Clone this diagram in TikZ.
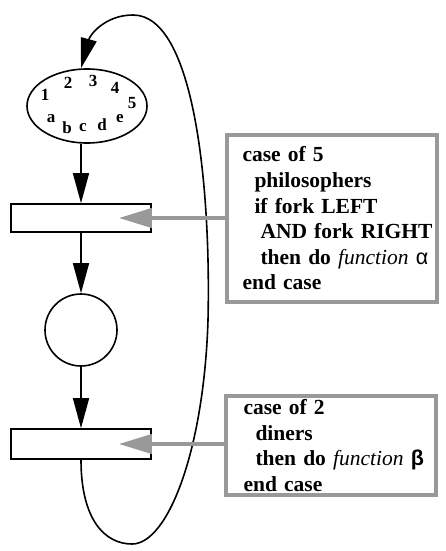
\documentclass[tikz,border=0pt]{standalone}
\usepackage{fontspec}
\setmainfont{Liberation Serif}
\newfontfamily\greekfont{Liberation Sans}
\usepackage{tikz}
\usetikzlibrary{arrows.meta,shapes.geometric}
\definecolor{notegray}{HTML}{999999}
\newcommand{\funcname}[1]{{\mdseries\itshape #1}}
\newcommand{\grk}[1]{{\greekfont #1}}
\tikzstyle{placenode} =[
    draw,
    line width=1.6pt,
    inner sep=0pt
    ]
\tikzstyle{transition} =[
    draw,
    rectangle,
    line width=1.6pt,
    minimum width=140pt,
    inner sep=0pt
    ]
\tikzstyle{flow} =[
    line width=1.6pt,
    -{Triangle[length=30pt,width=16pt]}
    ]
\tikzstyle{feed} =[
    draw=notegray,
    line width=4pt,
    -{Triangle[length=33pt,width=19pt]}
    ]
\tikzstyle{notebox} =[
    draw=notegray,
    rectangle,
    line width=4pt,
    inner xsep=0pt,
    text width=210pt,
    align=left,
    font=\bfseries\fontsize{21.5}{25.6}\selectfont
    ]
\tikzstyle{token} =[
    font=\bfseries\fontsize{17}{17}\selectfont,
    inner sep=0pt
    ]

\begin{document}
\begin{tikzpicture}[x=1pt,y=1pt]
\useasboundingbox (0,0) rectangle (446,-551);

% the net: marking ring, two transitions and a place
\node[placenode, ellipse, minimum width=120pt, minimum height=74pt] (state) at (87,-106) {};
\node[transition, minimum height=28pt] (t1) at (81,-218) {};
\node[placenode, circle, minimum size=72pt] (p) at (81,-330) {};
\node[transition, minimum height=30pt] (t2) at (81,-444) {};

% philosophers and forks
\foreach \lbl/\dx/\dy in {1/-42/11, 2/-19/23, 3/6/25, 4/28/18, 5/45/3,
                          a/-36/-13, b/-20/-22, c/-4/-22, d/15/-19, e/33/-13}
    \node[token] (tok-\lbl) at ([shift={(\dx,\dy)}]state.center) {\lbl};

\draw[flow] (state.south -| t1.north) -- (t1.north);
\draw[flow] (t1.south) -- (p.north);
\draw[flow] (p.south) -- (t2.north);
\draw[flow] (t2.south) .. controls (81,-520) and (105,-544) .. (132,-544)
    .. controls (168,-544) and (204,-450) .. (208,-320)
    .. controls (211,-190) and (195,-15) .. (133,-15)
    .. controls (105,-15) and (90,-35) .. (state.north -| t1.north);

% guards
\node[notebox, minimum width=207pt, minimum height=167pt] (note1) at (331.5,-218.5) {%
\hspace*{16pt}case of 5\\
\hspace*{28pt}philosophers\\
\hspace*{28pt}if fork LEFT\\
\hspace*{34pt}\mbox{AND fork RIGHT}\\
\hspace*{34pt}\mbox{then do \funcname{function} \grk{\mdseries α}}\\
\hspace*{16pt}end case};
\node[notebox, minimum width=205pt, minimum height=99pt] (note2) at (330.5,-445.5) {%
\hspace*{18pt}case of 2\\
\hspace*{30pt}diners\\
\hspace*{30pt}\mbox{then do \funcname{function} \grk{β}}\\
\hspace*{18pt}end case};

\coordinate (t1tip) at ([xshift=-33pt]t1.east);
\coordinate (t2tip) at ([xshift=-33pt]t2.east);
\draw[feed] (note1.west |- t1) -- (t1tip);
\draw[feed] (note2.west |- t2) -- (t2tip);
\end{tikzpicture}
\end{document}
